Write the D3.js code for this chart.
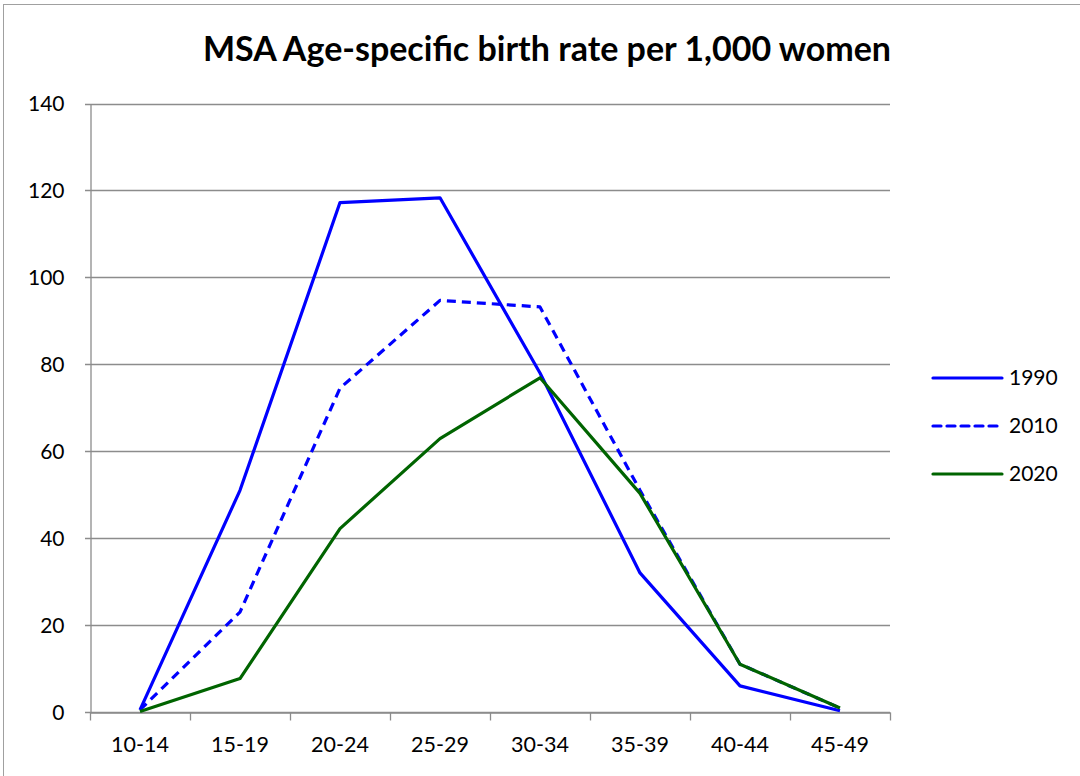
<!DOCTYPE html>
<html>
<head>
<meta charset="utf-8">
<script src="https://cdn.jsdelivr.net/npm/d3@7"></script>
<style>
  body { margin: 0; background: #fff; }
  text { font-family: Lato, "Open Sans", sans-serif; fill: #000; }
</style>
</head>
<body>
<script>
// age groups and rates per 1,000 women
const ageGroups = ["10-14", "15-19", "20-24", "25-29", "30-34", "35-39", "40-44", "45-49"];
const rate1990 = [0.5, 51, 117.2, 118.3, 78, 32, 6, 0.3];
const rate2010 = [0.5, 23, 74.5, 94.7, 93.2, 51, 11, 0.9];
const rate2020 = [0.1, 7.7, 42.2, 62.9, 76.9, 50.3, 11, 0.9];
const yTicks = [0, 20, 40, 60, 80, 100, 120, 140];

const series = [
  {name: "1990", values: rate1990, color: "#0000ff", dash: null},
  {name: "2010", values: rate2010, color: "#0000ff", dash: "9,6"},
  {name: "2020", values: rate2020, color: "#006400", dash: null}
];

const width = 1080, height = 776;
const margin = {top: 103.5, right: 190, bottom: 64, left: 90};

const svg = d3.select("body").append("svg")
    .attr("width", width)
    .attr("height", height);

svg.append("rect")
    .attr("x", 3.5).attr("y", 4.5)
    .attr("width", width + 10).attr("height", height + 10)
    .attr("fill", "none")
    .attr("stroke", "#a0a0a0");

svg.append("text")
    .attr("x", 547).attr("y", 61)
    .attr("text-anchor", "middle")
    .style("font-size", "34px")
    .style("font-weight", "bold")
    .text("MSA Age-specific birth rate per 1,000 women");

const x = d3.scaleBand()
    .domain(ageGroups)
    .range([margin.left, width - margin.right]);

const y = d3.scaleLinear()
    .domain([0, 140])
    .range([height - margin.bottom, margin.top]);

// gridlines
svg.append("g")
  .selectAll("line")
  .data(yTicks)
  .join("line")
    .attr("x1", margin.left - 5)
    .attr("x2", width - margin.right)
    .attr("y1", d => Math.round(y(d)) + 0.5)
    .attr("y2", d => Math.round(y(d)) + 0.5)
    .attr("stroke", "#8c8c8c")
    .attr("stroke-width", 1.3);

// y axis
const yAxis = svg.append("g")
    .attr("transform", `translate(${margin.left + 0.5},0)`)
    .call(d3.axisLeft(y).tickValues(yTicks).tickSize(0).tickPadding(26));
yAxis.select(".domain").attr("stroke", "#8c8c8c").attr("stroke-width", 1.3);
yAxis.selectAll("text").style("font-size", "21px").attr("dy", "0.35em");

// x axis
const xAxis = svg.append("g")
    .attr("transform", `translate(0,${Math.round(y(0)) + 0.5})`)
    .call(d3.axisBottom(x).tickSize(0).tickPadding(24));
xAxis.select(".domain").attr("stroke", "#8c8c8c").attr("stroke-width", 1.3);
xAxis.selectAll("text").style("font-size", "21.5px");
xAxis.append("g")
  .selectAll("line")
  .data(ageGroups.concat([null]))
  .join("line")
    .attr("x1", (d, i) => Math.round(margin.left + i * x.step()) + 0.5)
    .attr("x2", (d, i) => Math.round(margin.left + i * x.step()) + 0.5)
    .attr("y1", 0).attr("y2", 8)
    .attr("stroke", "#8c8c8c")
    .attr("stroke-width", 1.3);

// lines
const line = d3.line()
    .x((d, i) => x(ageGroups[i]) + x.bandwidth() / 2)
    .y(d => y(d));

svg.append("g")
  .selectAll("path")
  .data(series)
  .join("path")
    .attr("d", d => line(d.values))
    .attr("fill", "none")
    .attr("stroke", d => d.color)
    .attr("stroke-width", 3.2)
    .attr("stroke-dasharray", d => d.dash)
    .attr("stroke-linejoin", "round");

// legend
const legend = svg.append("g")
  .selectAll("g")
  .data(series)
  .join("g")
    .attr("transform", (d, i) => `translate(933,${378 + i * 48})`);
legend.append("line")
    .attr("x1", 0).attr("x2", 69)
    .attr("stroke", d => d.color)
    .attr("stroke-width", 3.2)
    .attr("stroke-linecap", "round")
    .attr("stroke-dasharray", d => d.dash ? "8,6" : null);
legend.append("text")
    .attr("x", 76).attr("dy", "0.35em")
    .style("font-size", "21px")
    .text(d => d.name);
</script>
</body>
</html>
